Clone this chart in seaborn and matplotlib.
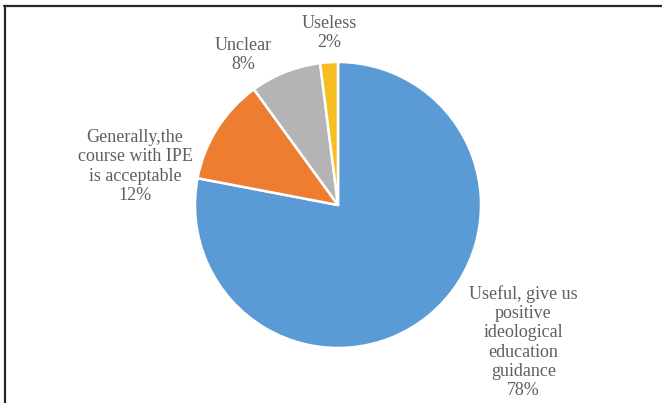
import matplotlib
matplotlib.use("Agg")
import matplotlib.pyplot as plt
from matplotlib.lines import Line2D
import seaborn as sns

# data
categories = [
    "Useful, give us\npositive\nideological\neducation\nguidance",
    "Generally,the\ncourse with IPE\nis acceptable",
    "Unclear",
    "Useless",
]
shares = [78, 12, 8, 2]
colors = ["#5B9BD5", "#ED7D31", "#B4B4B4", "#F7BE22"]

# label placement (pie radius = 1), Excel-style best fit
label_pos = [(1.297, -0.958), (-1.42, 0.269), (-0.661, 1.049), (-0.063, 1.203)]

sns.set_theme(style="white")
plt.rcParams["font.family"] = ["Liberation Serif", "DejaVu Serif"]

fig = plt.figure(figsize=(6.62, 4.03), dpi=100)
ax = fig.add_axes([0, 0, 1, 1])

wedges, _ = ax.pie(shares, colors=colors, startangle=90, counterclock=False,
                   wedgeprops=dict(edgecolor="white", linewidth=1.8))

for lab, val, (x, y) in zip(categories, shares, label_pos):
    ax.text(x, y, f"{lab}\n{val}%", ha="center", va="center",
            fontsize=13, color="#5f5f5f", linespacing=1.17)

# 1 unit = 143 px, pie centre at (338, 205) from top-left
s = 143.0
ax.set_xlim(-338 / s, (662 - 338) / s)
ax.set_ylim(-(403 - 205) / s, 205 / s)
ax.set_aspect("auto")
ax.axis("off")

# chart frame (only top and left edges visible in the crop)
fig.add_artist(Line2D([4 / 662, 1], [1 - 6 / 403, 1 - 6 / 403],
                      transform=fig.transFigure, color="#262626", lw=1.6))
fig.add_artist(Line2D([5 / 662, 5 / 662], [0, 1 - 6 / 403],
                      transform=fig.transFigure, color="#262626", lw=1.6))

fig.savefig("out.png", dpi=100)
